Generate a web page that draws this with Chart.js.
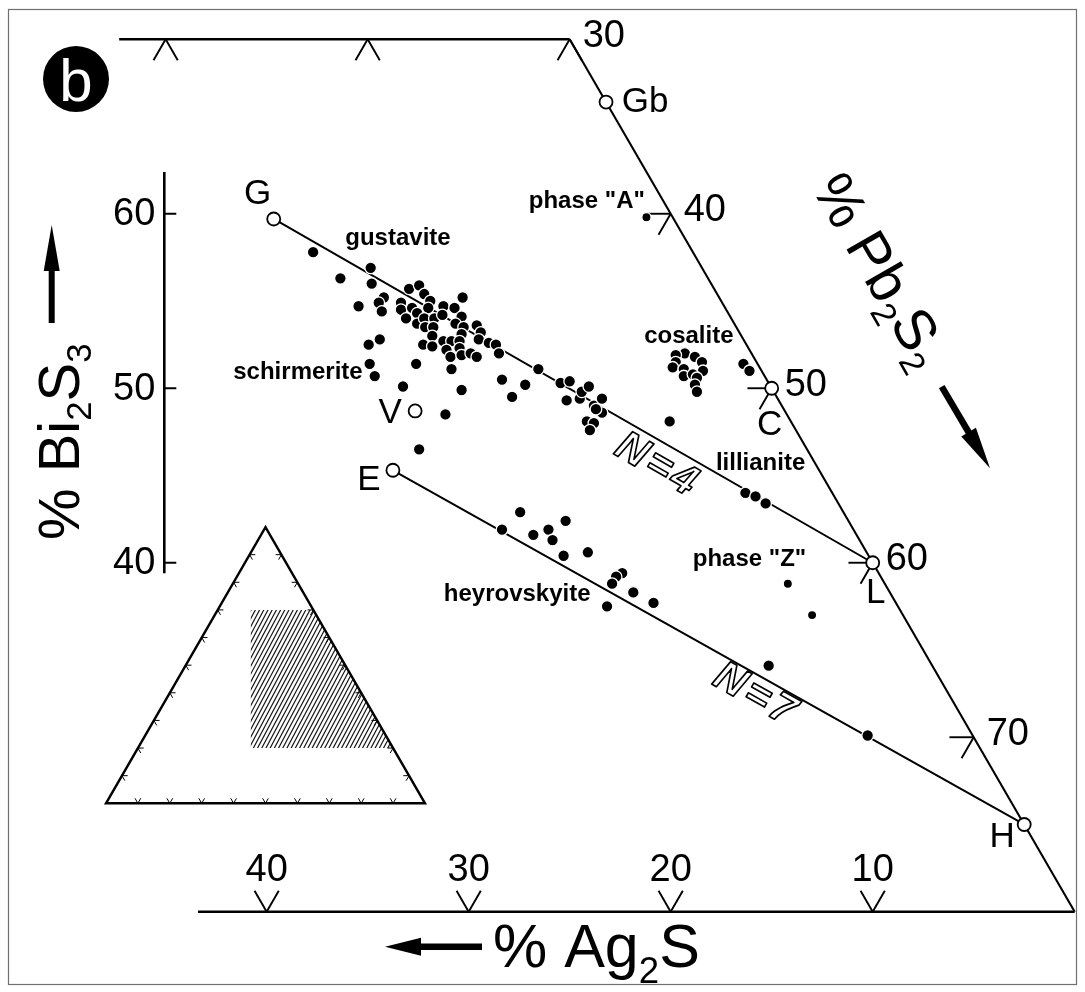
<!DOCTYPE html>
<html>
<head>
<meta charset="utf-8">
<title>Ag2S – Pb2S2 – Bi2S3 (b)</title>
<script src="https://cdn.jsdelivr.net/npm/chart.js@4.4.1/dist/chart.umd.min.js"></script>
<style>
html,body{margin:0;padding:0;background:#fff;}
#wrap{position:relative;width:1085px;height:992px;}
</style>
</head>
<body>
<div id="wrap"><canvas id="chart"></canvas></div>
<script>
// ---------- DATA : compositions as [Ag2S %, Bi2S3 %]  (Pb2S2 = 100 - Ag2S - Bi2S3) ----------
const gustaviteSchirmeritePts = [
 [18.8,57.8],[18.2,56.3],[16.4,56.9],[16.8,56.0],[18.1,54.7],[16.6,55.2],[17.0,54.9],[17.1,54.4],
 [15.1,55.7],[14.5,55.9],[14.5,55.4],[15.9,54.9],[14.4,55.0],[16.1,54.5],[15.5,54.6],[14.7,54.6],
 [13.9,54.7],[13.4,54.6],[12.7,55.2],[16.1,54.0],[15.4,54.3],[15.7,53.7],[15.2,54.0],[15.4,53.5],
 [14.7,54.0],[15.0,53.5],[14.2,54.2],[13.3,54.1],[13.8,53.7],[13.5,53.5],[12.8,53.6],[13.8,53.1],
 [12.8,53.2],[13.1,52.8],[15.3,53.0],[16.0,52.5],[15.6,52.4],[14.9,52.7],[14.5,52.7],[14.1,52.7],
 [14.3,52.3],[12.7,52.6],[12.4,52.5],[12.5,52.0],[15.0,52.2],[15.0,51.8],[14.4,51.9],[13.9,52.0],
 [13.7,51.8],[15.3,51.1],[18.7,52.5],[18.0,52.8],[19.2,51.4],[19.3,50.7],[16.9,51.4],[18.2,50.1],
 [15.4,49.9],[16.9,48.5],[13.1,50.5],[12.1,50.2],[13.1,49.5],[11.0,51.1],[19.2,46.5]
];
const lillianiteSeriesPts = [
 [10.3,50.3],[9.8,50.4],[10.5,49.3],[9.8,49.4],[9.5,49.8],[9.0,50.1],[9.3,49.0],[8.7,49.4],
 [9.1,48.6],[9.3,48.8],[10.1,48.1],[9.8,48.0],[10.2,47.6],[6.0,48.1],[4.3,44.0],[3.9,43.8],[3.6,43.4]
];
const cosalitePts = [
 [3.3,52.0],[3.8,51.9],[4.0,51.5],[4.3,51.2],[2.9,51.8],[2.7,51.5],[2.9,51.0],[3.8,51.1],
 [4.0,50.7],[3.5,50.8],[3.4,50.6],[3.7,50.2],[3.8,49.8],[0.7,51.4],[0.6,51.0]
];
const heyrovskitePts = [
 [16.0,42.9],[17.4,41.9],[16.0,41.6],[15.1,41.9],[14.0,42.4],[15.2,41.3],[15.1,40.4],[13.8,40.6],
 [12.7,39.4],[13.1,39.2],[13.5,38.8],[12.7,38.3],[14.4,37.5],[12.0,37.7],[8.1,34.1],[5.2,30.1]
];
const phaseAPts = [[1.3,59.8]];
const phaseZPts = [[4.8,38.8],[4.5,37.0]];

// end-members (open circles)
const endMemberNames = ['G','Gb','C','L','H','V','E'];
const endMemberAg    = [19.8, 0,    0,  0,  0,  18.3, 21.1];
const endMemberBi    = [59.7, 66.4, 50, 40, 25, 48.7, 45.3];

// homologous-series tie lines
const tieLineN4 = ['G','L'];
const tieLineN7 = ['E','H'];

// axes / ticks
const bi2s3Ticks      = [40, 50, 60];
const ag2sBottomTicks = [40, 30, 20, 10];
const ag2sTopTicks    = [20, 10, 0];
const pb2s2Ticks      = [40, 50, 60, 70];
const pb2s2Labels     = [30, 40, 50, 60, 70];
const topEdgeBi = 70, bottomEdgeBi = 20;
const topEdgeAgMax = 22.3, bottomEdgeAgMax = 43.4;

// mineral names (anchored at compositions)
const mineralNames = ['gustavite','schirmerite','phase "A"','cosalite','lillianite','phase "Z"','heyrovskyite'];
const mineralAg    = [14.2, 23.0, 3.8, 2.6, 2.7, 6.0, 18.5];
const mineralBi    = [58.6, 50.9, 60.7, 53.0, 45.7, 40.2, 38.2];

// inset: plotted window inside the full triangle, [Ag2S, Bi2S3]
const insetWindow = [[44.6,20],[19.6,70],[0,70],[0,20]];

// ---------- ternary -> cartesian ----------
const tern = (ag, bi) => ({x: 100 - ag - bi / 2, y: bi});
const toPts = arr => arr.map(p => tern(p[0], p[1]));
const emIdx = n => endMemberNames.indexOf(n);
const emPt = n => tern(endMemberAg[emIdx(n)], endMemberBi[emIdx(n)]);

const FF = "'Liberation Sans', Arial, Helvetica, sans-serif";

// ---------- layout (pixels) ----------
const L = {
  frame: [8.5, 9.5, 1068, 975],
  badge: {x: 76, y: 79, r: 33},
  biAxisX: 164.3, biAxisTop: 62.4, biAxisBottom: 39.4,
  tickLen: 1.2,
  emLabelOff: {G:[-16,-25], Gb:[39,0], C:[-2,37], L:[3,31], H:[-22,13], V:[-25,2], E:[-24,10]},
  inset: {x0: 106, y0: 803.3, side: 319}
};

function line(ctx, a, b){ ctx.beginPath(); ctx.moveTo(a[0],a[1]); ctx.lineTo(b[0],b[1]); ctx.stroke(); }
function drawFormula(ctx, parts, x, y, size, drop){
  let cx = x;
  for (const [txt, sub] of parts){
    const fs = sub ? size * 0.6 : size;
    ctx.font = `${fs}px ${FF}`;
    ctx.fillText(txt, cx, y + (sub ? size * drop : 0));
    cx += ctx.measureText(txt).width;
  }
}
function arrow(ctx, x1, y1, x2, y2, shaft, headLen, headHalf){
  const a = Math.atan2(y2 - y1, x2 - x1), c = Math.cos(a), s = Math.sin(a);
  const bx = x2 - c * headLen, by = y2 - s * headLen;
  ctx.lineWidth = shaft; ctx.lineCap = 'butt';
  ctx.beginPath(); ctx.moveTo(x1, y1); ctx.lineTo(bx + c * 3, by + s * 3); ctx.stroke();
  ctx.beginPath(); ctx.moveTo(x2, y2);
  ctx.lineTo(bx - s * headHalf, by + c * headHalf);
  ctx.lineTo(bx + s * headHalf, by - c * headHalf);
  ctx.closePath(); ctx.fill();
}

const decor = {
  id: 'decor',
  beforeDatasetsDraw(chart){
    const {ctx, scales: {x: xs, y: ys}} = chart;
    const P = (ag, bi) => { const t = tern(ag, bi); return [xs.getPixelForValue(t.x), ys.getPixelForValue(t.y)]; };
    ctx.save();
    // frame
    ctx.strokeStyle = '#707070'; ctx.lineWidth = 1.2;
    ctx.strokeRect(...L.frame);
    // badge "b"
    ctx.fillStyle = '#000';
    ctx.beginPath(); ctx.arc(L.badge.x, L.badge.y, L.badge.r, 0, Math.PI * 2); ctx.fill();
    ctx.fillStyle = '#fff'; ctx.font = `60px ${FF}`; ctx.textAlign = 'center'; ctx.textBaseline = 'alphabetic';
    ctx.fillText('b', L.badge.x, L.badge.y + 22);

    // triangle edges
    ctx.strokeStyle = '#000'; ctx.lineCap = 'butt';
    ctx.lineWidth = 2.6;
    line(ctx, P(topEdgeAgMax, topEdgeBi), P(0, topEdgeBi));
    line(ctx, P(bottomEdgeAgMax, bottomEdgeBi), P(0, bottomEdgeBi));
    ctx.lineWidth = 2.1;
    line(ctx, P(0, topEdgeBi), P(0, bottomEdgeBi));

    // ticks
    const T = L.tickLen;
    ctx.lineWidth = 1.9;
    ag2sTopTicks.forEach(a => { const o = P(a, topEdgeBi); line(ctx, o, P(a, topEdgeBi - T)); line(ctx, o, P(a + T, topEdgeBi - T)); });
    ag2sBottomTicks.forEach(a => { const o = P(a, bottomEdgeBi); line(ctx, o, P(a, bottomEdgeBi + T)); line(ctx, o, P(a - T, bottomEdgeBi + T)); });
    pb2s2Ticks.forEach(pb => { const b = 100 - pb; const o = P(0, b); line(ctx, o, P(T, b)); line(ctx, o, P(T, b - T)); });

    // Bi2S3 vertical axis
    ctx.lineWidth = 2.6;
    line(ctx, [L.biAxisX, ys.getPixelForValue(L.biAxisTop)], [L.biAxisX, ys.getPixelForValue(L.biAxisBottom)]);
    ctx.lineWidth = 2;
    bi2s3Ticks.forEach(b => { const py = ys.getPixelForValue(b); line(ctx, [L.biAxisX, py], [L.biAxisX + 12, py]); });

    // inset triangle
    const I = L.inset;
    const ip = (ag, bi) => [I.x0 + I.side * (100 - ag - bi / 2) / 100, I.y0 - I.side * 0.8660254 * bi / 100];
    ctx.save();
    ctx.beginPath();
    insetWindow.forEach((p, i) => { const q = ip(p[0], p[1]); i ? ctx.lineTo(q[0], q[1]) : ctx.moveTo(q[0], q[1]); });
    ctx.closePath(); ctx.clip();
    ctx.lineWidth = 1.15; ctx.strokeStyle = '#111';
    const cot = 1 / Math.tan(62 * Math.PI / 180);
    for (let k = 100; k < 420; k += 4.2) {
      ctx.beginPath(); ctx.moveTo(k, 760); ctx.lineTo(k + cot * 170, 590); ctx.stroke();
    }
    ctx.restore();
    ctx.strokeStyle = '#000'; ctx.lineWidth = 2.4; ctx.lineJoin = 'miter';
    ctx.beginPath();
    const c1 = ip(100, 0), c2 = ip(0, 0), c3 = ip(0, 100);
    ctx.moveTo(...c1); ctx.lineTo(...c2); ctx.lineTo(...c3); ctx.closePath(); ctx.stroke();
    ctx.lineWidth = 1;
    const l = 1.8;
    for (let v = 10; v <= 90; v += 10) {
      let o = ip(v, 0); line(ctx, o, ip(v, l)); line(ctx, o, ip(v - l, l));
      o = ip(100 - v, v); line(ctx, o, ip(100 - v - l, v)); line(ctx, o, ip(100 - v, v - l));
      o = ip(0, v); line(ctx, o, ip(l, v)); line(ctx, o, ip(l, v - l));
    }
    ctx.restore();
  },
  afterDatasetsDraw(chart){
    const {ctx, scales: {x: xs, y: ys}} = chart;
    const P = (ag, bi) => { const t = tern(ag, bi); return [xs.getPixelForValue(t.x), ys.getPixelForValue(t.y)]; };
    ctx.save();
    ctx.fillStyle = '#000'; ctx.strokeStyle = '#000';

    // tick labels
    ctx.font = `38px ${FF}`; ctx.textBaseline = 'middle';
    ctx.textAlign = 'right';
    bi2s3Ticks.forEach(b => ctx.fillText(String(b), L.biAxisX - 9, ys.getPixelForValue(b) + 1));
    ctx.textAlign = 'center';
    ag2sBottomTicks.forEach(a => { const o = P(a, bottomEdgeBi); ctx.fillText(String(a), o[0], o[1] - 41); });
    ctx.textAlign = 'left';
    pb2s2Labels.forEach(pb => { const o = P(0, 100 - pb); ctx.fillText(String(pb), o[0] + 13, o[1] - 3); });

    // end-member labels
    ctx.font = `35px ${FF}`; ctx.textAlign = 'center';
    endMemberNames.forEach((n, i) => {
      const o = P(endMemberAg[i], endMemberBi[i]), d = L.emLabelOff[n];
      ctx.fillText(n, o[0] + d[0], o[1] + d[1]);
    });

    // mineral names
    ctx.font = `bold 24px ${FF}`;
    mineralNames.forEach((n, i) => { const o = P(mineralAg[i], mineralBi[i]); ctx.fillText(n, o[0], o[1]); });

    // N = 4 / N = 7 outlined labels along tie lines
    const nLabel = (txt, pair, t, off) => {
      const a = emPt(pair[0]), b = emPt(pair[1]);
      const A = [xs.getPixelForValue(a.x), ys.getPixelForValue(a.y)], B = [xs.getPixelForValue(b.x), ys.getPixelForValue(b.y)];
      const ang = Math.atan2(B[1] - A[1], B[0] - A[0]);
      const px = A[0] + t * (B[0] - A[0]) - Math.sin(ang) * off, py = A[1] + t * (B[1] - A[1]) + Math.cos(ang) * off;
      ctx.save(); ctx.translate(px, py); ctx.rotate(ang);
      ctx.font = `italic bold 42px ${FF}`; ctx.textAlign = 'center'; ctx.textBaseline = 'middle';
      if ('letterSpacing' in ctx) ctx.letterSpacing = '4px';
      ctx.fillStyle = '#fff'; ctx.fillText(txt, 0, 0);
      ctx.lineWidth = 1.7; ctx.strokeStyle = '#000'; ctx.lineJoin = 'round'; ctx.strokeText(txt, 0, 0);
      ctx.restore();
    };
    nLabel('N=4', tieLineN4, 0.66, 23);
    nLabel('N=7', tieLineN7, 0.59, 19);

    // axis titles
    ctx.fillStyle = '#000'; ctx.textAlign = 'left'; ctx.textBaseline = 'alphabetic';
    drawFormula(ctx, [['% Ag', 0], ['2', 1], ['S', 0]], 493, 967, 61, 0.27);
    ctx.save(); ctx.translate(79, 540); ctx.rotate(-Math.PI / 2);
    drawFormula(ctx, [['% Bi', 0], ['2', 1], ['S', 0], ['3', 1]], 0, 0, 58, 0.2);
    ctx.restore();
    ctx.save(); ctx.translate(811, 188); ctx.rotate(Math.PI / 3);
    drawFormula(ctx, [['% Pb', 0], ['2', 1], ['S', 0], ['2', 1]], 0, 0, 57, 0.2);
    ctx.restore();

    // arrows
    ctx.strokeStyle = '#000'; ctx.fillStyle = '#000';
    arrow(ctx, 51.7, 323, 51.7, 225, 6, 46, 8);
    arrow(ctx, 482, 946.7, 385, 946.7, 6.5, 36, 9);
    arrow(ctx, 941.7, 386.7, 990, 468.3, 6.5, 42, 8.5);
    ctx.restore();
  }
};

const dotStyle = {pointRadius: 5.8, pointBackgroundColor: '#000', pointBorderColor: '#fff', pointBorderWidth: 1.3, showLine: false, order: 1};

new Chart(document.getElementById('chart'), {
  type: 'scatter',
  data: {
    datasets: [
      {label: 'end-members', data: endMemberNames.map(emPt), pointRadius: 6.5, pointBackgroundColor: '#fff',
       pointBorderColor: '#000', pointBorderWidth: 1.8, showLine: false, order: 0},
      Object.assign({label: 'gustavite–schirmerite', data: toPts(gustaviteSchirmeritePts)}, dotStyle),
      Object.assign({label: 'lillianite series', data: toPts(lillianiteSeriesPts)}, dotStyle),
      Object.assign({label: 'cosalite', data: toPts(cosalitePts)}, dotStyle),
      Object.assign({label: 'heyrovskyite', data: toPts(heyrovskitePts)}, dotStyle),
      Object.assign({label: 'phase A', data: toPts(phaseAPts)}, dotStyle, {pointRadius: 4.6}),
      Object.assign({label: 'phase Z', data: toPts(phaseZPts)}, dotStyle, {pointRadius: 4.6}),
      {label: 'N=4', data: tieLineN4.map(emPt), showLine: true, borderColor: '#000', borderWidth: 2, pointRadius: 0, order: 3},
      {label: 'N=7', data: tieLineN7.map(emPt), showLine: true, borderColor: '#000', borderWidth: 2, pointRadius: 0, order: 3}
    ]
  },
  options: {
    responsive: true, maintainAspectRatio: false, animation: false, devicePixelRatio: 1,
    events: [],
    layout: {padding: 0, autoPadding: false},
    plugins: {legend: {display: false}, tooltip: {enabled: false}},
    scales: {
      x: {type: 'linear', min: 36.80, max: 90.51, display: false},
      y: {type: 'linear', min: 15.40, max: 72.25, display: false}
    }
  },
  plugins: [decor]
});
</script>
</body>
</html>
